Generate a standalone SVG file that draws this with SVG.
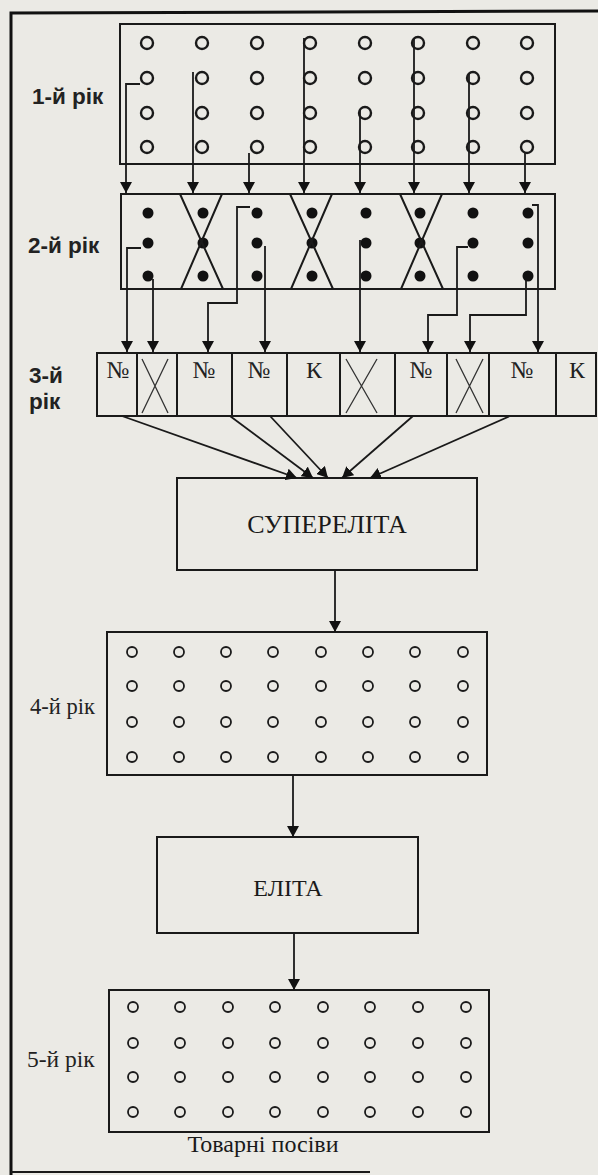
<svg xmlns="http://www.w3.org/2000/svg" width="598" height="1175" viewBox="0 0 598 1175">
<style>
.bg{fill:#ebeae5}
.box{fill:none;stroke:#1a1a1a;stroke-width:2}
.frame{fill:none;stroke:#111;stroke-width:3}
.c1{fill:none;stroke:#1a1a1a;stroke-width:2.4}
.c4{fill:none;stroke:#1a1a1a;stroke-width:1.8}
.dot{fill:#111}
.x{stroke:#1a1a1a;stroke-width:2;fill:none}
.xs{stroke:#333;stroke-width:1.3;fill:none}
.conn{fill:none;stroke:#1a1a1a;stroke-width:1.8;marker-end:url(#ah)}
.lab{font-family:"Liberation Sans",Arial,sans-serif;font-weight:bold;font-size:22.5px;fill:#222}
.labs{font-family:"Liberation Serif","Times New Roman",serif;font-size:22.5px;fill:#222}
.cell{font-family:"Liberation Serif","Times New Roman",serif;font-size:24px;fill:#222;text-anchor:middle}
.big{font-family:"Liberation Serif","Times New Roman",serif;font-size:26px;fill:#1a1a1a;text-anchor:middle}
</style>
<defs>
<marker id="ah" markerWidth="11" markerHeight="12" refX="11" refY="6" orient="auto" markerUnits="userSpaceOnUse">
<path d="M0,0 L11,6 L0,12 z" fill="#111"/>
</marker>
</defs>
<rect class="bg" x="0" y="0" width="598" height="1175"/>
<g id="frame">
<path class="frame" d="M598,11 L11,13 L11,1175"/>
<path class="box" d="M11,1172 L370,1172"/>
</g>

<g id="year1">
<text class="lab" x="32" y="104">1-й рік</text>
<rect class="box" x="120" y="24" width="435" height="140"/>
<g>
<circle class="c1" cx="147" cy="43" r="6"/><circle class="c1" cx="202" cy="43" r="6"/><circle class="c1" cx="257" cy="43" r="6"/><circle class="c1" cx="310" cy="43" r="6"/><circle class="c1" cx="365" cy="43" r="6"/><circle class="c1" cx="418" cy="43" r="6"/><circle class="c1" cx="473" cy="43" r="6"/><circle class="c1" cx="527" cy="43" r="6"/>
<circle class="c1" cx="147" cy="78" r="6"/><circle class="c1" cx="202" cy="78" r="6"/><circle class="c1" cx="257" cy="78" r="6"/><circle class="c1" cx="310" cy="78" r="6"/><circle class="c1" cx="365" cy="78" r="6"/><circle class="c1" cx="418" cy="78" r="6"/><circle class="c1" cx="473" cy="78" r="6"/><circle class="c1" cx="527" cy="78" r="6"/>
<circle class="c1" cx="147" cy="113" r="6"/><circle class="c1" cx="202" cy="113" r="6"/><circle class="c1" cx="257" cy="113" r="6"/><circle class="c1" cx="310" cy="113" r="6"/><circle class="c1" cx="365" cy="113" r="6"/><circle class="c1" cx="418" cy="113" r="6"/><circle class="c1" cx="473" cy="113" r="6"/><circle class="c1" cx="527" cy="113" r="6"/>
<circle class="c1" cx="147" cy="147" r="6"/><circle class="c1" cx="202" cy="147" r="6"/><circle class="c1" cx="257" cy="147" r="6"/><circle class="c1" cx="310" cy="147" r="6"/><circle class="c1" cx="365" cy="147" r="6"/><circle class="c1" cx="418" cy="147" r="6"/><circle class="c1" cx="473" cy="147" r="6"/><circle class="c1" cx="527" cy="147" r="6"/>
</g>
</g>

<g id="year2">
<text class="lab" x="28" y="253">2-й рік</text>
<rect class="box" x="121" y="194" width="434" height="95"/>
<g>
<circle class="dot" cx="148" cy="213" r="5.5"/><circle class="dot" cx="203" cy="213" r="5.5"/><circle class="dot" cx="257" cy="213" r="5.5"/><circle class="dot" cx="312" cy="213" r="5.5"/><circle class="dot" cx="366" cy="213" r="5.5"/><circle class="dot" cx="420" cy="213" r="5.5"/><circle class="dot" cx="473" cy="213" r="5.5"/><circle class="dot" cx="528" cy="213" r="5.5"/>
<circle class="dot" cx="148" cy="243" r="5.5"/><circle class="dot" cx="203" cy="243" r="5.5"/><circle class="dot" cx="257" cy="243" r="5.5"/><circle class="dot" cx="312" cy="243" r="5.5"/><circle class="dot" cx="366" cy="243" r="5.5"/><circle class="dot" cx="420" cy="243" r="5.5"/><circle class="dot" cx="473" cy="243" r="5.5"/><circle class="dot" cx="528" cy="243" r="5.5"/>
<circle class="dot" cx="148" cy="276" r="5.5"/><circle class="dot" cx="203" cy="276" r="5.5"/><circle class="dot" cx="257" cy="276" r="5.5"/><circle class="dot" cx="312" cy="276" r="5.5"/><circle class="dot" cx="366" cy="276" r="5.5"/><circle class="dot" cx="420" cy="276" r="5.5"/><circle class="dot" cx="473" cy="276" r="5.5"/><circle class="dot" cx="528" cy="276" r="5.5"/>
</g>
<path class="x" d="M180,194 L223,289 M222,194 L181,289"/>
<path class="x" d="M290,194 L333,289 M332,194 L291,289"/>
<path class="x" d="M400,194 L443,289 M442,194 L401,289"/>
</g>

<g id="year3">
<text class="lab" x="29" y="383">3-й</text>
<text class="lab" x="29" y="409">рік</text>
<rect class="box" x="97" y="353" width="499" height="63"/>
<path class="box" d="M137,353 V416 M177,353 V416 M232,353 V416 M287,353 V416 M340,353 V416 M395,353 V416 M447,353 V416 M489,353 V416 M556,353 V416"/>
<text class="cell" x="118" y="378">№</text>
<text class="cell" x="204" y="378">№</text>
<text class="cell" x="259" y="378">№</text>
<text class="cell" x="314" y="378">К</text>
<text class="cell" x="421" y="378">№</text>
<text class="cell" x="522" y="378">№</text>
<text class="cell" x="577" y="378">К</text>
<path class="xs" d="M142,359 L168,413 M168,359 L142,413"/>
<path class="xs" d="M346,359 L377,413 M377,359 L346,413"/>
<path class="xs" d="M456,359 L483,413 M483,359 L456,413"/>
</g>

<g id="superelite">
<rect class="box" x="177" y="478" width="300" height="92"/>
<text class="big" x="327" y="533">СУПЕРЕЛІТА</text>
</g>

<g id="year4">
<text class="labs" x="30" y="714">4-й рік</text>
<rect class="box" x="107" y="632" width="380" height="143"/>
<g>
<circle class="c4" cx="132" cy="652" r="5"/><circle class="c4" cx="179" cy="652" r="5"/><circle class="c4" cx="226" cy="652" r="5"/><circle class="c4" cx="273" cy="652" r="5"/><circle class="c4" cx="321" cy="652" r="5"/><circle class="c4" cx="368" cy="652" r="5"/><circle class="c4" cx="415" cy="652" r="5"/><circle class="c4" cx="463" cy="652" r="5"/>
<circle class="c4" cx="132" cy="686" r="5"/><circle class="c4" cx="179" cy="686" r="5"/><circle class="c4" cx="226" cy="686" r="5"/><circle class="c4" cx="273" cy="686" r="5"/><circle class="c4" cx="321" cy="686" r="5"/><circle class="c4" cx="368" cy="686" r="5"/><circle class="c4" cx="415" cy="686" r="5"/><circle class="c4" cx="463" cy="686" r="5"/>
<circle class="c4" cx="132" cy="722" r="5"/><circle class="c4" cx="179" cy="722" r="5"/><circle class="c4" cx="226" cy="722" r="5"/><circle class="c4" cx="273" cy="722" r="5"/><circle class="c4" cx="321" cy="722" r="5"/><circle class="c4" cx="368" cy="722" r="5"/><circle class="c4" cx="415" cy="722" r="5"/><circle class="c4" cx="463" cy="722" r="5"/>
<circle class="c4" cx="132" cy="757" r="5"/><circle class="c4" cx="179" cy="757" r="5"/><circle class="c4" cx="226" cy="757" r="5"/><circle class="c4" cx="273" cy="757" r="5"/><circle class="c4" cx="321" cy="757" r="5"/><circle class="c4" cx="368" cy="757" r="5"/><circle class="c4" cx="415" cy="757" r="5"/><circle class="c4" cx="463" cy="757" r="5"/>
</g>
</g>

<g id="elite">
<rect class="box" x="157" y="837" width="261" height="96"/>
<text class="big" x="288" y="896" style="font-size:24px">ЕЛІТА</text>
</g>

<g id="year5">
<text class="labs" x="27" y="1067" style="font-size:23.5px">5-й рік</text>
<rect class="box" x="109" y="990" width="380" height="142"/>
<g>
<circle class="c4" cx="133" cy="1007" r="5"/><circle class="c4" cx="180" cy="1007" r="5"/><circle class="c4" cx="228" cy="1007" r="5"/><circle class="c4" cx="275" cy="1007" r="5"/><circle class="c4" cx="323" cy="1007" r="5"/><circle class="c4" cx="370" cy="1007" r="5"/><circle class="c4" cx="418" cy="1007" r="5"/><circle class="c4" cx="466" cy="1007" r="5"/>
<circle class="c4" cx="133" cy="1043" r="5"/><circle class="c4" cx="180" cy="1043" r="5"/><circle class="c4" cx="228" cy="1043" r="5"/><circle class="c4" cx="275" cy="1043" r="5"/><circle class="c4" cx="323" cy="1043" r="5"/><circle class="c4" cx="370" cy="1043" r="5"/><circle class="c4" cx="418" cy="1043" r="5"/><circle class="c4" cx="466" cy="1043" r="5"/>
<circle class="c4" cx="133" cy="1077" r="5"/><circle class="c4" cx="180" cy="1077" r="5"/><circle class="c4" cx="228" cy="1077" r="5"/><circle class="c4" cx="275" cy="1077" r="5"/><circle class="c4" cx="323" cy="1077" r="5"/><circle class="c4" cx="370" cy="1077" r="5"/><circle class="c4" cx="418" cy="1077" r="5"/><circle class="c4" cx="466" cy="1077" r="5"/>
<circle class="c4" cx="133" cy="1112" r="5"/><circle class="c4" cx="180" cy="1112" r="5"/><circle class="c4" cx="228" cy="1112" r="5"/><circle class="c4" cx="275" cy="1112" r="5"/><circle class="c4" cx="323" cy="1112" r="5"/><circle class="c4" cx="370" cy="1112" r="5"/><circle class="c4" cx="418" cy="1112" r="5"/><circle class="c4" cx="466" cy="1112" r="5"/>
</g>
<text class="big" x="263" y="1152" style="font-size:24px">Товарні посіви</text>
</g>

<g id="connectors">
<path class="conn" d="M140,84 H126 V193"/>
<path class="conn" d="M193,72 V193"/>
<path class="conn" d="M249,153 V193"/>
<path class="conn" d="M304,38 V193"/>
<path class="conn" d="M360,110 V193"/>
<path class="conn" d="M414,38 V193"/>
<path class="conn" d="M469,73 V193"/>
<path class="conn" d="M525,153 V193"/>

<path class="conn" d="M141,248 H127 V352"/>
<path class="conn" d="M153,279 V352"/>
<path class="conn" d="M250,207 H237 V303 H208 V352"/>
<path class="conn" d="M265,246 V352"/>
<path class="conn" d="M360,240 V352"/>
<path class="conn" d="M468,247 H457 V315 H428 V352"/>
<path class="conn" d="M526,280 V315 H470 V352"/>
<path class="conn" d="M532,205 H538 V352"/>

<path class="conn" d="M122,416 L297,478"/>
<path class="conn" d="M230,416 L313,478"/>
<path class="conn" d="M270,416 L328,478"/>
<path class="conn" d="M413,416 L342,478"/>
<path class="conn" d="M510,416 L370,478"/>

<path class="conn" d="M335,570 V632"/>
<path class="conn" d="M293,775 V837"/>
<path class="conn" d="M294,933 V990"/>
</g>
</svg>
